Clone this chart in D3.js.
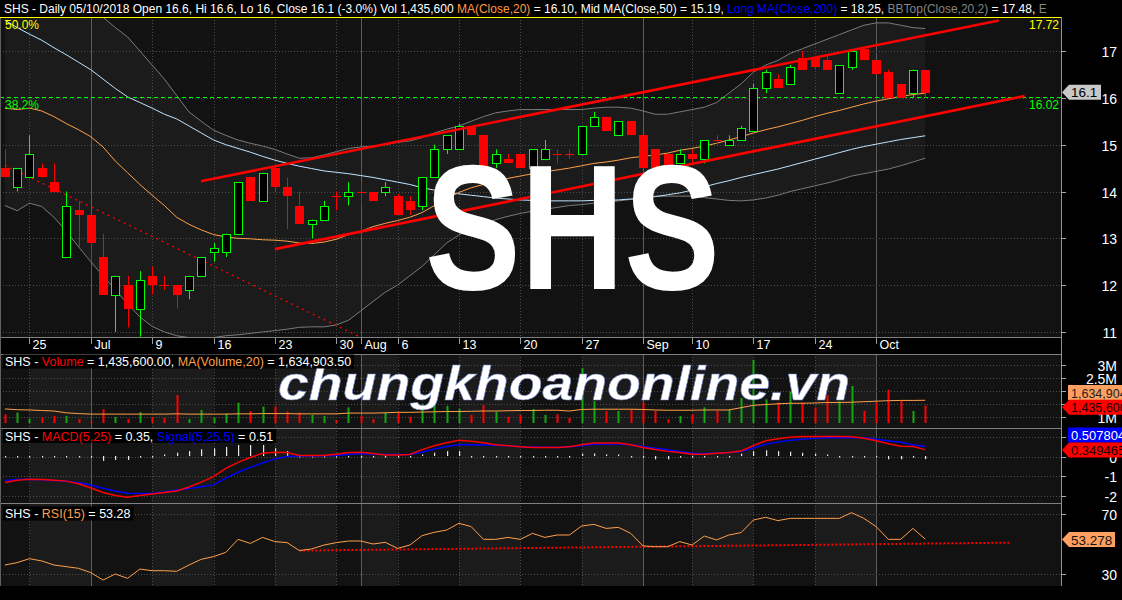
<!DOCTYPE html>
<html><head><meta charset="utf-8">
<script src="https://cdn.jsdelivr.net/npm/d3@7"></script>
<style>
html,body{margin:0;padding:0;background:#000;}
svg{display:block;}
text{font-family:"Liberation Sans",Arial,sans-serif;}
</style></head><body>
<svg id="c" width="1122" height="600"></svg>
<script>
// ---------------- DATA ----------------
const dates = ["2018-06-21","2018-06-22","2018-06-25","2018-06-26","2018-06-27","2018-06-28","2018-06-29","2018-07-02","2018-07-03","2018-07-04","2018-07-05","2018-07-06","2018-07-09","2018-07-10","2018-07-11","2018-07-12","2018-07-13","2018-07-16","2018-07-17","2018-07-18","2018-07-19","2018-07-20","2018-07-23","2018-07-24","2018-07-25","2018-07-26","2018-07-27","2018-07-30","2018-07-31","2018-08-01","2018-08-02","2018-08-03","2018-08-06","2018-08-07","2018-08-08","2018-08-09","2018-08-10","2018-08-13","2018-08-14","2018-08-15","2018-08-16","2018-08-17","2018-08-20","2018-08-21","2018-08-22","2018-08-23","2018-08-24","2018-08-27","2018-08-28","2018-08-29","2018-08-30","2018-08-31","2018-09-04","2018-09-05","2018-09-06","2018-09-07","2018-09-10","2018-09-11","2018-09-12","2018-09-13","2018-09-14","2018-09-17","2018-09-18","2018-09-19","2018-09-20","2018-09-21","2018-09-24","2018-09-25","2018-09-26","2018-09-27","2018-09-28","2018-10-01","2018-10-02","2018-10-03","2018-10-04","2018-10-05"];

const openP = [14.5,14.1,14.3,14.5,14.2,12.6,13.6,13.5,12.6,11.8, 12.0,11.5,12.2,12.0,12.0,11.9,12.2,12.7,12.7,13.1, 14.3,13.8,14.5,14.1,13.7,13.3,13.4,13.9,13.9,14.0, 14.0,14.0,13.9,13.8,13.7,14.3,14.9,14.9,15.4,15.2, 14.6,14.7,14.8,14.5,14.7,14.8,14.8,14.8,15.4,15.6, 15.2,15.5,15.2,14.9,14.8,14.6,14.8,14.7,15.1,15.0, 15.1,15.3,16.2,16.4,16.3,16.85,16.85,16.8,16.1,16.65, 17.05,16.8,16.55,16.3,16.1,16.6];
const highP = [14.9,14.5,15.2,14.6,14.6,14.0,13.8,13.5,13.1,12.2, 12.2,12.3,12.4,12.2,12.0,12.2,12.6,12.9,13.1,14.2, 14.3,14.4,14.5,14.3,14.0,13.4,13.8,14.0,14.2,14.2, 14.0,14.2,13.95,13.9,14.3,15.0,15.2,15.45,15.4,15.2, 14.9,14.8,14.8,14.9,15.1,14.9,14.9,15.4,15.7,15.6, 15.5,15.5,15.2,14.9,14.8,14.9,14.9,15.1,15.2,15.2, 15.4,16.3,16.6,16.5,16.7,17.0,16.9,16.9,16.7,17.0, 17.1,16.8,16.6,16.3,16.6,16.6];
const lowP = [14.3,14.0,14.3,14.3,14.0,12.6,12.8,12.5,11.8,11.0, 11.1,10.9,11.8,11.9,11.5,11.7,12.2,12.5,12.6,13.1, 13.8,13.8,14.0,13.2,13.3,13.0,13.4,13.6,13.7,13.7, 13.8,13.9,13.5,13.5,13.6,14.3,14.8,14.9,15.2,14.5, 14.5,14.6,14.5,14.5,14.7,14.6,14.7,14.8,15.4,15.3, 15.2,15.2,14.5,14.4,14.5,14.6,14.6,14.6,15.0,15.0, 15.1,15.3,16.1,16.2,16.3,16.6,16.6,16.6,16.1,16.6, 16.8,16.5,16.0,16.0,16.0,16.0];
const closeP = [14.3,14.5,14.8,14.3,14.0,13.7,13.5,12.9,11.8,12.2, 11.5,12.1,12.0,12.0,11.8,12.2,12.6,12.8,13.1,14.2, 13.8,14.4,14.1,13.9,13.3,13.4,13.7,13.9,14.0,14.0, 13.8,14.1,13.5,13.6,14.3,14.9,15.2,15.4,15.2,14.5, 14.8,14.6,14.5,14.9,14.9,14.8,14.8,15.4,15.6,15.3, 15.5,15.2,14.5,14.5,14.5,14.8,14.7,15.1,15.1,15.1, 15.35,16.2,16.55,16.2,16.65,16.6,16.65,16.6,16.7,17.0, 16.8,16.5,16.0,16.0,16.6,16.1];

const ma20 = [15.78,15.75,15.78,15.72,15.6,15.45,15.32,15.17,14.95,14.65, 14.4,14.15,13.92,13.7,13.45,13.3,13.18,13.08,13.03,13.0, 12.99,12.97,12.96,12.94,12.9,12.89,12.92,12.98,13.08,13.15, 13.25,13.32,13.38,13.45,13.55,13.7,13.85,13.98,14.08,14.15, 14.22,14.28,14.33,14.38,14.42,14.46,14.5,14.55,14.6,14.63, 14.67,14.72,14.75,14.78,14.82,14.88,14.92,14.97,15.03,15.1, 15.17,15.25,15.32,15.38,15.45,15.52,15.6,15.67,15.73,15.8, 15.87,15.93,15.98,16.03,16.07,16.1];
const ma50 = [17.66,17.5,17.36,17.23,17.07,16.92,16.76,16.6,16.4,16.2, 16.02,15.9,15.78,15.65,15.55,15.4,15.25,15.1,15.0,14.92, 14.84,14.75,14.67,14.6,14.54,14.49,14.44,14.41,14.38,14.34, 14.3,14.25,14.2,14.15,14.08,14.03,13.99,13.95,13.92,13.89, 13.86,13.84,13.82,13.81,13.8,13.8,13.8,13.8,13.81,13.81, 13.82,13.84,13.86,13.89,13.93,13.97,14.03,14.1,14.17,14.23, 14.3,14.36,14.42,14.48,14.55,14.62,14.69,14.76,14.83,14.9, 14.96,15.01,15.06,15.11,15.15,15.19];
const bbTop = [18.6,18.6,18.6,18.5,18.4,18.3,18.1,17.9,17.72,17.5, 17.3,17.0,16.7,16.4,16.05,15.7,15.5,15.31,15.2,15.1, 15.03,14.97,14.9,14.8,14.71,14.72,14.78,14.85,14.92,14.95, 14.97,15.0,15.05,15.08,15.15,15.25,15.33,15.4,15.5,15.6, 15.68,15.72,15.75,15.75,15.75,15.75,15.75,15.75,15.78,15.8, 15.8,15.78,15.72,15.65,15.65,15.7,15.75,15.8,15.9,16.1, 16.3,16.55,16.7,16.8,16.95,17.05,17.15,17.25,17.35,17.45, 17.55,17.6,17.6,17.55,17.5,17.48];
const bbBot = [13.7,13.59,13.75,13.68,13.45,13.15,12.82,12.5,12.2,11.9, 11.6,11.32,11.12,11.0,10.92,10.88,10.86,10.88,10.92,10.94, 10.97,11.0,11.03,11.06,11.1,11.11,11.11,11.15,11.25,11.45, 11.65,11.85,12.0,12.2,12.4,12.65,12.9,13.07,13.2,13.3, 13.4,13.47,13.53,13.58,13.62,13.66,13.7,13.72,13.75,13.78, 13.8,13.83,13.86,13.9,13.9,13.9,13.9,13.87,13.84,13.81, 13.8,13.82,13.86,13.92,14.0,14.06,14.12,14.18,14.25,14.33, 14.38,14.43,14.48,14.55,14.63,14.71];

const volume = [1090000,1160000,920000,990000,1030000,1030000,910000,810000,1290000,990000, 910000,1180000,990000,950000,1840000,910000,1260000,960000,1130000,1540000, 1220000,1390000,1390000,1200000,1160000,1070000,1030000,870000,1360000,1030000, 910000,1160000,1200000,1000000,1500000,1580000,1420000,1300000,1070000,1450000, 1200000,1000000,1070000,1300000,1070000,1100000,960000,2880000,1600000,1220000, 1220000,1290000,1550000,1220000,900000,1030000,1090000,1360000,1220000,1290000, 1720000,3200000,1670000,1550000,1970000,1550000,1360000,1840000,1600000,2190000, 1220000,1550000,2040000,1630000,1220000,1435600];
const volMA = [1300000,1270000,1260000,1240000,1220000,1150000,1120000,1100000,1100000,1100000, 1100000,1100000,1100000,1100000,1110000,1100000,1100000,1100000,1100000,1110000, 1110000,1120000,1120000,1120000,1110000,1110000,1110000,1110000,1140000,1140000, 1140000,1150000,1170000,1170000,1180000,1190000,1200000,1200000,1210000,1220000, 1220000,1230000,1240000,1240000,1250000,1250000,1220000,1280000,1290000,1290000, 1290000,1290000,1280000,1260000,1250000,1250000,1250000,1260000,1260000,1260000, 1350000,1440000,1470000,1500000,1520000,1520000,1530000,1550000,1550000,1560000, 1580000,1600000,1620000,1630000,1630000,1634904];

const macd = [-1.32,-1.2,-1.15,-1.17,-1.2,-1.25,-1.38,-1.6,-1.83,-1.98, -2.07,-1.98,-1.9,-1.83,-1.75,-1.55,-1.3,-1.02,-0.6,-0.3, -0.05,0.17,0.22,0.2,0.05,0.05,0.05,0.12,0.2,0.22, 0.15,0.08,0.08,0.1,0.35,0.55,0.7,0.82,0.78,0.7, 0.6,0.55,0.5,0.46,0.46,0.46,0.5,0.6,0.69,0.69, 0.69,0.6,0.46,0.35,0.26,0.2,0.12,0.12,0.17,0.2, 0.28,0.55,0.8,0.9,0.98,1.02,1.02,1.02,1.02,1.0, 0.93,0.8,0.65,0.52,0.51,0.35];
const signal = [-1.22,-1.17,-1.15,-1.18,-1.22,-1.26,-1.33,-1.45,-1.61,-1.75, -1.87,-1.88,-1.87,-1.8,-1.7,-1.62,-1.53,-1.44,-1.1,-0.8, -0.55,-0.33,-0.12,0.0,0.02,0.03,0.04,0.05,0.1,0.15, 0.13,0.1,0.1,0.1,0.22,0.38,0.51,0.6,0.6,0.58, 0.57,0.54,0.5,0.48,0.47,0.46,0.5,0.55,0.62,0.64, 0.64,0.6,0.51,0.42,0.34,0.25,0.17,0.15,0.17,0.2, 0.25,0.43,0.62,0.73,0.82,0.88,0.92,0.95,0.95,0.95, 0.95,0.88,0.8,0.72,0.6,0.51];
const macdHist = [0,0,0,0,0,0,0,0,-0.25,-0.2, -0.2,0,0,0.08,0.17,0.25,0.34,0.39,0.46,0.56, 0.56,0.56,0.39,0.25,0,0,0,0,0,0, 0,0,0,0,0.08,0.17,0.25,0.25,0,0, 0,0,0,0,0,0,0,0.12,0.13,0.08, 0.08,0,-0.08,-0.17,-0.17,-0.08,-0.05,0,0,0, 0.12,0.25,0.29,0.25,0.22,0.17,0.12,0.08,0,0, 0,0,-0.17,-0.17,-0.08,-0.16];

const rsi = [36.0,37.6,40.2,38.7,36.0,34.9,33.8,30.9,26.0,30.0, 27.1,33.3,32.2,32.2,31.8,36.0,39.8,41.6,44.4,53.1, 50.4,54.4,51.6,50.9,45.6,46.7,49.3,50.9,52.0,52.0, 50.0,51.1,47.1,49.3,55.6,57.8,59.3,63.8,61.6,53.1, 53.1,54.4,53.1,57.1,54.4,56.0,56.0,62.0,63.1,60.4, 61.1,57.1,48.7,48.2,48.2,51.6,49.3,55.3,52.7,56.0, 57.6,66.0,67.8,65.6,67.1,67.1,67.1,67.1,67.1,70.9, 67.1,61.6,53.1,53.1,60.4,53.28];

// drawn lines (index, value)
const upperChannel = [[15.98,14.22],[81.0,17.65]];
const lowerChannel = [[22.0,12.77],[83.1,16.04]];
const downTrend = [[0,14.56],[28.9,10.9]];
const rsiTrend = [[24,45.6],[81.9,50.9]];
const fibLevels = [{pct:"50.0%", value:17.72, color:"#ffff00"},{pct:"38.2%", value:16.02, color:"#00ff00"}];

const tickIdx = [2,7,12,17,22,27,29,32,37,42,47,52,56,61,66,71];
const tickLabels = ["25","Jul","9","16","23","30","Aug","6","13","20","27","Sep","10","17","24","Oct"];
const priceTicks = [11,12,13,14,15,16,17];
const volTicks = [1000000,1500000,2000000,2500000,3000000];
const volTickLabels = ["1M","","","2.5M","3M"];   // 1.5M / 2M are covered by the value boxes
const macdTicks = [1,0,-1,-2];
const macdTickLabels = ["","0","-1","-2"];      // 1 is covered by the value box
const rsiTicks = [70,30];

// ---------------- LAYOUT ----------------
const W=1122, H=600, PR=1061;
const DARK="#121212", LIGHT="#1b1b1b";
const svg = d3.select("#c");
const x = d3.scaleLinear().domain([0,75]).range([4.9,925.2]);
const yP = d3.scaleLinear().domain([11,17]).range([332,51]);
const yV = d3.scaleLinear().domain([1000000,3000000]).range([416.7,365]);
const yM = d3.scaleLinear().domain([-2,1]).range([495.9,436.8]);
const yR = d3.scaleLinear().domain([30,70]).range([574,514]);
const P = {price:[17,337], vol:[354,428], macd:[428,503], rsi:[503,586]};

svg.append("rect").attr("width",W).attr("height",H).attr("fill","#000");
const defs = svg.append("defs");
Object.entries(P).forEach(([k,[t,b]])=>{
  defs.append("clipPath").attr("id","clip-"+k).append("rect").attr("x",0).attr("y",t).attr("width",PR).attr("height",b-t);
});

function panelBg(key, alt){
  const [t,b]=P[key];
  const g = svg.append("g").attr("clip-path","url(#clip-"+key+")");
  g.append("rect").attr("x",0).attr("y",t).attr("width",PR).attr("height",b-t).attr("fill",DARK);
  if(alt){
    for(let k=0;k<tickIdx.length-1;k+=2){
      g.append("rect").attr("x",x(tickIdx[k])).attr("y",t).attr("width",x(tickIdx[k+1])-x(tickIdx[k])).attr("height",b-t).attr("fill",LIGHT);
    }
  }
  return g;
}
function grid(g,key,vals,scale){
  const [t,b]=P[key];
  tickIdx.forEach((ti,k)=>{
    const xx=Math.round(x(ti))+0.5, month=isNaN(+tickLabels[k]);
    g.append("line").attr("x1",xx).attr("x2",xx).attr("y1",t).attr("y2",b)
      .attr("stroke",month?"#5c5c5c":"#4c4c4c").attr("stroke-dasharray",month?null:"1,2");
  });
  vals.forEach(v=>{
    const yy=Math.round(scale(v))+0.5;
    g.append("line").attr("x1",0).attr("x2",PR).attr("y1",yy).attr("y2",yy)
      .attr("stroke","#4c4c4c").attr("stroke-dasharray","1,2");
  });
}
const idx = d3.range(dates.length);

// ---------- PRICE PANEL ----------
const gp = panelBg("price", false);
gp.append("path").datum(idx).attr("fill",LIGHT)
  .attr("d", d3.area().x(i=>x(i)).y0(i=>yP(bbBot[i])).y1(i=>yP(bbTop[i])));
grid(gp,"price",priceTicks,yP);
const line = (arr)=>d3.line().x(i=>x(i)).y(i=>yP(arr[i]));
gp.append("path").datum(idx).attr("fill","none").attr("stroke","#7a7a7a").attr("d",line(bbTop));
gp.append("path").datum(idx).attr("fill","none").attr("stroke","#7a7a7a").attr("d",line(bbBot));
gp.append("path").datum(idx).attr("fill","none").attr("stroke","#bfe4ff").attr("d",line(ma50));
gp.append("path").datum(idx).attr("fill","none").attr("stroke","#ffa04a").attr("d",line(ma20));
// fib lines
fibLevels.forEach((f,k)=>{
  const yy=Math.round(yP(f.value))+0.5;
  gp.append("line").attr("x1",0).attr("x2",PR).attr("y1",yy).attr("y2",yy).attr("stroke",f.color)
    .attr("stroke-width",1).attr("stroke-dasharray",k===0?null:"4,3");
  gp.append("text").attr("x",5).attr("y",yy+11).attr("fill",f.color).attr("font-size",12).text(f.pct);
  gp.append("text").attr("x",1059).attr("y",yy+11).attr("fill",f.color).attr("font-size",12).attr("text-anchor","end").text(f.value.toFixed(2));
});
// trend lines
const tl = d3.line().x(d=>x(d[0])).y(d=>yP(d[1]));
gp.append("path").datum(downTrend).attr("fill","none").attr("stroke","#ff0000").attr("stroke-width",1.3).attr("stroke-dasharray","2,4").attr("d",tl);
// candles
const cg = gp.append("g");
idx.forEach(i=>{
  const up = closeP[i]>openP[i];
  const xc = Math.round(x(i));
  const col = up?"#00ff00":"#ff0000";
  const yo=yP(openP[i]), yc=yP(closeP[i]), yh=yP(highP[i]), yl=yP(lowP[i]);
  const top=Math.round(Math.min(yo,yc)), bot=Math.round(Math.max(yo,yc));
  cg.append("line").attr("x1",xc+0.5).attr("x2",xc+0.5).attr("y1",yh).attr("y2",yl).attr("stroke",col);
  if(up){
    cg.append("rect").attr("x",xc-3.5).attr("y",top+0.5).attr("width",8).attr("height",Math.max(1,bot-top)).attr("fill","#000").attr("stroke",col);
  } else {
    cg.append("rect").attr("x",xc-4).attr("y",top).attr("width",9).attr("height",Math.max(1,bot-top)).attr("fill",col);
  }
});
gp.append("path").datum(upperChannel).attr("fill","none").attr("stroke","#ff0000").attr("stroke-width",2.6).attr("d",tl);
gp.append("path").datum(lowerChannel).attr("fill","none").attr("stroke","#ff0000").attr("stroke-width",2.6).attr("d",tl);

// ---------- X AXIS STRIP ----------
svg.append("rect").attr("x",0).attr("y",337).attr("width",PR).attr("height",17).attr("fill","#000");
tickIdx.forEach((ti,k)=>{
  const xx=Math.round(x(ti))+0.5;
  svg.append("line").attr("x1",xx).attr("x2",xx).attr("y1",337).attr("y2",344).attr("stroke","#9a9a9a");
  svg.append("text").attr("x",xx+3).attr("y",349).attr("fill","#fff").attr("font-size",12.5).text(tickLabels[k]);
});

// ---------- VOLUME PANEL ----------
const gv = panelBg("vol", true);
grid(gv,"vol",volTicks,yV);
idx.forEach(i=>{
  const up = closeP[i]>openP[i];
  const xc=Math.round(x(i));
  gv.append("rect").attr("x",xc-0.5).attr("width",2).attr("y",yV(volume[i])).attr("height",423-yV(volume[i]))
    .attr("fill",up?"#12a812":"#ff0000");
});
gv.append("path").datum(idx).attr("fill","none").attr("stroke","#ffa04a")
  .attr("d",d3.line().x(i=>x(i)).y(i=>yV(volMA[i])));

// ---------- MACD PANEL ----------
const gm = panelBg("macd", true);
grid(gm,"macd",macdTicks,yM);
idx.forEach(i=>{
  const xc=Math.round(x(i));
  const y0=yM(0), y1=yM(macdHist[i]);
  gm.append("rect").attr("x",xc).attr("width",1.2).attr("y",Math.min(y0,y1)-0.5).attr("height",Math.max(1.5,Math.abs(y1-y0))).attr("fill","#e8e8e8");
});
gm.append("path").datum(idx).attr("fill","none").attr("stroke","#0000ff").attr("stroke-width",1.5).attr("d",d3.line().x(i=>x(i)).y(i=>yM(signal[i])));
gm.append("path").datum(idx).attr("fill","none").attr("stroke","#ff0000").attr("stroke-width",1.5).attr("d",d3.line().x(i=>x(i)).y(i=>yM(macd[i])));

// ---------- RSI PANEL ----------
const gr = panelBg("rsi", true);
grid(gr,"rsi",rsiTicks,yR);
gr.append("path").datum(rsiTrend).attr("fill","none").attr("stroke","#ff0000").attr("stroke-width",2).attr("stroke-dasharray","2,2")
  .attr("d",d3.line().x(d=>x(d[0])).y(d=>yR(d[1])));
gr.append("path").datum(idx).attr("fill","none").attr("stroke","#ffa04a").attr("d",d3.line().x(i=>x(i)).y(i=>yR(rsi[i])));

// ---------- SEPARATORS ----------
[337,354,428,503].forEach(yy=>svg.append("line").attr("x1",0).attr("x2",PR).attr("y1",yy+0.5).attr("y2",yy+0.5).attr("stroke","#808080"));
svg.append("line").attr("x1",PR+0.5).attr("x2",PR+0.5).attr("y1",17).attr("y2",586).attr("stroke","#909090");
svg.append("line").attr("x1",0.5).attr("x2",0.5).attr("y1",17).attr("y2",586).attr("stroke","#606060");

// ---------- WATERMARKS ----------
svg.append("text").attr("x",425).attr("y",289).attr("fill","#fff").attr("font-family","'DejaVu Sans',sans-serif")
  .attr("font-weight","bold").attr("font-size",178).attr("textLength",295).attr("lengthAdjust","spacingAndGlyphs").text("SHS");
svg.append("text").attr("x",278).attr("y",400).attr("fill","#fff").attr("font-family","'DejaVu Sans',sans-serif")
  .attr("font-weight","bold").attr("font-style","italic").attr("font-size",48).attr("textLength",572).attr("lengthAdjust","spacingAndGlyphs")
  .attr("stroke","#6f86c8").attr("stroke-width",0.6).text("chungkhoanonline.vn");

// ---------- RIGHT AXES ----------
function rAxis(vals, labels, scale){
  vals.forEach((v,k)=>{
    const yy=Math.round(scale(v))+0.5;
    svg.append("line").attr("x1",PR).attr("x2",PR+5).attr("y1",yy).attr("y2",yy).attr("stroke","#aaa");
    if(labels[k]) svg.append("text").attr("x",1117).attr("y",yy+5).attr("fill","#fff").attr("font-size",14).attr("text-anchor","end").text(labels[k]);
  });
}
rAxis(priceTicks, priceTicks.map(String), yP);
rAxis(volTicks, volTickLabels, yV);
rAxis(macdTicks, macdTickLabels, yM);
rAxis(rsiTicks, rsiTicks.map(String), yR);

function valBox(cy, txt, fill, tcol, arrow, right, fs){
  const h=15, top=cy-h/2;
  if(arrow){
    svg.append("path").attr("d",`M${PR+1},${cy} L${PR+8},${top} L${right},${top} L${right},${top+h} L${PR+8},${top+h} Z`).attr("fill",fill);
  } else {
    svg.append("rect").attr("x",PR+7).attr("y",top).attr("width",right-PR-7).attr("height",h).attr("fill",fill);
  }
  svg.append("text").attr("x",PR+10).attr("y",cy+5).attr("fill",tcol).attr("font-size",fs||13).text(txt);
}
valBox(yP(closeP[75])-1, "16.1", "#c8c8c8", "#000", true, 1101, 13.5);
valBox(392.5, "1,634,904", "#ffa060", "#222", false, 1122, 12.5);
valBox(407.2, "1,435,600", "#ff0000", "#1a0000", true, 1122, 12.5);
valBox(435, "0.507804", "#0000ff", "#fff", false, 1122, 13);
valBox(450, "0.349465", "#ff0000", "#1a0000", true, 1122, 13);
valBox(539.5, "53.278", "#ffa060", "#111", true, 1115, 13.5);

// ---------- HEADER ----------
svg.append("rect").attr("x",0).attr("y",0).attr("width",W).attr("height",16.5).attr("fill","#000");
defs.append("clipPath").attr("id","clip-head").append("rect").attr("x",0).attr("y",0).attr("width",1058).attr("height",17);
function richText(g, xx, yy, parts, size){
  const t=g.append("text").attr("x",xx).attr("y",yy).attr("font-size",size).attr("xml:space","preserve");
  parts.forEach(p=>t.append("tspan").attr("fill",p[1]).text(p[0]));
  return t;
}
richText(svg.append("g").attr("clip-path","url(#clip-head)"),4,13,[
  ["SHS - Daily 05/10/2018 Open 16.6, Hi 16.6, Lo 16, Close 16.1 (-3.0%) Vol 1,435,600 ","#fff"],
  ["MA(Close,20)","#ff9a40"],[" = 16.10, ","#fff"],["Mid MA(Close,50)","#fff"],[" = 15.19, ","#fff"],
  ["Long MA(Close,200)","#0000ff"],[" = 18.25, ","#fff"],["BBTop(Close,20,2)","#858585"],[" = 17.48, ","#fff"],["E","#858585"]],12);
// yellow 50% line over header edge
svg.append("line").attr("x1",0).attr("x2",PR).attr("y1",Math.round(yP(fibLevels[0].value))+0.5).attr("y2",Math.round(yP(fibLevels[0].value))+0.5).attr("stroke","#ffff00");

function panelTitle(yTop, parts){
  const g=svg.append("g");
  const bg=g.append("rect").attr("x",3).attr("y",yTop).attr("height",14).attr("fill","#000");
  const t=richText(g,5,yTop+11.5,parts,12.5);
  bg.attr("width",t.node().getComputedTextLength()+5);
}
panelTitle(354.5,[["SHS - ","#fff"],["Volume","#ff0000"],[" = 1,435,600.00, ","#fff"],["MA(Volume,20)","#ffa04a"],[" = 1,634,903.50","#fff"]]);
panelTitle(429,[["SHS - ","#fff"],["MACD(5,25)","#ff0000"],[" = 0.35, ","#fff"],["Signal(5,25,5)","#0000ff"],[" = 0.51","#fff"]]);
panelTitle(506.5,[["SHS - ","#fff"],["RSI(15)","#ffa04a"],[" = 53.28","#fff"]]);
</script>
</body></html>
